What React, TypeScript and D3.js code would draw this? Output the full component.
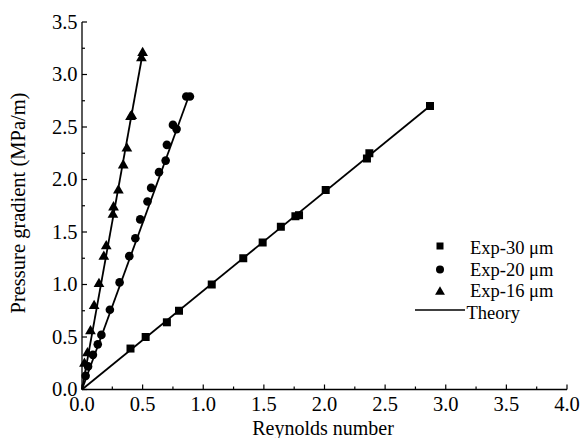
import React from 'react';
import * as d3 from 'd3';

// Exp-30 um (squares)
const exp30: [number, number][] = [
  [0.40, 0.39], [0.525, 0.50], [0.70, 0.64], [0.80, 0.75], [1.07, 1.0],
  [1.33, 1.25], [1.49, 1.40], [1.64, 1.55], [1.76, 1.65], [1.79, 1.66],
  [2.01, 1.90], [2.35, 2.20], [2.37, 2.25], [2.87, 2.70],
];

// Exp-20 um (circles)
const exp20: [number, number][] = [
  [0.03, 0.13], [0.05, 0.22], [0.09, 0.33], [0.13, 0.43], [0.16, 0.52],
  [0.23, 0.76], [0.31, 1.02], [0.39, 1.27], [0.44, 1.44], [0.48, 1.62],
  [0.54, 1.79], [0.57, 1.92], [0.635, 2.07], [0.69, 2.18], [0.70, 2.33],
  [0.75, 2.52], [0.78, 2.48], [0.86, 2.79], [0.89, 2.79],
];

// Exp-16 um (triangles)
const exp16: [number, number][] = [
  [0.02, 0.25], [0.045, 0.35], [0.07, 0.56], [0.10, 0.80], [0.14, 1.01],
  [0.18, 1.27], [0.20, 1.37], [0.255, 1.67], [0.26, 1.74], [0.30, 1.90],
  [0.34, 2.14], [0.37, 2.30], [0.40, 2.60], [0.41, 2.61], [0.49, 3.16],
  [0.50, 3.21],
];

// theory lines (through origin)
const theory30: [number, number][] = [[0, 0], [2.87, 2.70]];
const theory20: [number, number][] = [[0, 0], [0.88, 2.79]];
const theory16: [number, number][] = [[0, 0], [0.50, 3.20]];

const xTicks = [0, 0.5, 1.0, 1.5, 2.0, 2.5, 3.0, 3.5, 4.0];
const yTicks = [0, 0.5, 1.0, 1.5, 2.0, 2.5, 3.0, 3.5];

const legendLabels = ['Exp-30 μm', 'Exp-20 μm', 'Exp-16 μm', 'Theory'];

const W = 583;
const H = 438;
const font = '"Liberation Serif", "Times New Roman", serif';
const fs = 20.5;

export default function App() {
  const x = d3.scaleLinear().domain([0, 4]).range([82, 567]);
  const y = d3.scaleLinear().domain([0, 3.5]).range([389.5, 22]);
  const line = d3.line<[number, number]>().x(d => x(d[0])).y(d => y(d[1]));

  const xMinor = d3.range(0.25, 4, 0.5);
  const yMinor = d3.range(0.25, 3.5, 0.5);

  const tri = d3.symbol().type(d3.symbolTriangle).size(50)() as string;
  const triL = d3.symbol().type(d3.symbolTriangle).size(42)() as string;

  return (
    <svg width={W} height={H} style={{ position: 'absolute', left: 0, top: 0, background: '#fff' }}
      fontFamily={font}>
      {/* theory lines */}
      {[theory30, theory20, theory16].map((t, i) => (
        <path key={i} d={line(t) as string} fill="none" stroke="#000" strokeWidth={1.8} />
      ))}

      {/* data */}
      {exp30.map((d, i) => (
        <rect key={'s' + i} x={x(d[0]) - 4} y={y(d[1]) - 4} width={8} height={8} fill="#000" />
      ))}
      {exp20.map((d, i) => (
        <circle key={'c' + i} cx={x(d[0])} cy={y(d[1])} r={4.3} fill="#000" />
      ))}
      {exp16.map((d, i) => (
        <path key={'t' + i} d={tri} transform={`translate(${x(d[0])},${y(d[1]) + 0.5})`} fill="#000" />
      ))}

      {/* axes */}
      <line x1={x(0)} x2={x(4)} y1={y(0)} y2={y(0)} stroke="#000" strokeWidth={1.3} />
      <line x1={x(0)} x2={x(0)} y1={y(0)} y2={y(3.5)} stroke="#000" strokeWidth={1.3} />
      {xTicks.map(t => (
        <g key={'xt' + t}>
          <line x1={x(t)} x2={x(t)} y1={y(0)} y2={y(0) - 5} stroke="#000" strokeWidth={1.2} />
          <text x={x(t)} y={y(0) + 21.5} textAnchor="middle" fontSize={fs}>{t.toFixed(1)}</text>
        </g>
      ))}
      {xMinor.map(t => (
        <line key={'xm' + t} x1={x(t)} x2={x(t)} y1={y(0)} y2={y(0) - 3} stroke="#000" strokeWidth={1.2} />
      ))}
      {yTicks.map(t => (
        <g key={'yt' + t}>
          <line x1={x(0)} x2={x(0) + 5} y1={y(t)} y2={y(t)} stroke="#000" strokeWidth={1.2} />
          <text x={x(0) - 4.5} y={y(t) + 6.5} textAnchor="end" fontSize={fs}>{t.toFixed(1)}</text>
        </g>
      ))}
      {yMinor.map(t => (
        <line key={'ym' + t} x1={x(0)} x2={x(0) + 3} y1={y(t)} y2={y(t)} stroke="#000" strokeWidth={1.2} />
      ))}

      {/* axis titles */}
      <text x={323} y={435} textAnchor="middle" fontSize={20}>Reynolds number</text>
      <text transform="translate(25,203) rotate(-90)" textAnchor="middle" fontSize={fs}>
        Pressure gradient (MPa/m)
      </text>

      {/* legend */}
      <g>
        <rect x={436.5} y={242.5} width={7} height={7} fill="#000" />
        <circle cx={440} cy={269.5} r={4} fill="#000" />
        <path d={triL} transform="translate(440,292)" fill="#000" />
        <line x1={415} x2={465} y1={310} y2={310} stroke="#000" strokeWidth={1.4} />
        {legendLabels.map((l, i) => (
          <text key={l} x={i === 3 ? 466.5 : 470} y={254 + i * 21.5} fontSize={18.5}>{l}</text>
        ))}
      </g>
    </svg>
  );
}
